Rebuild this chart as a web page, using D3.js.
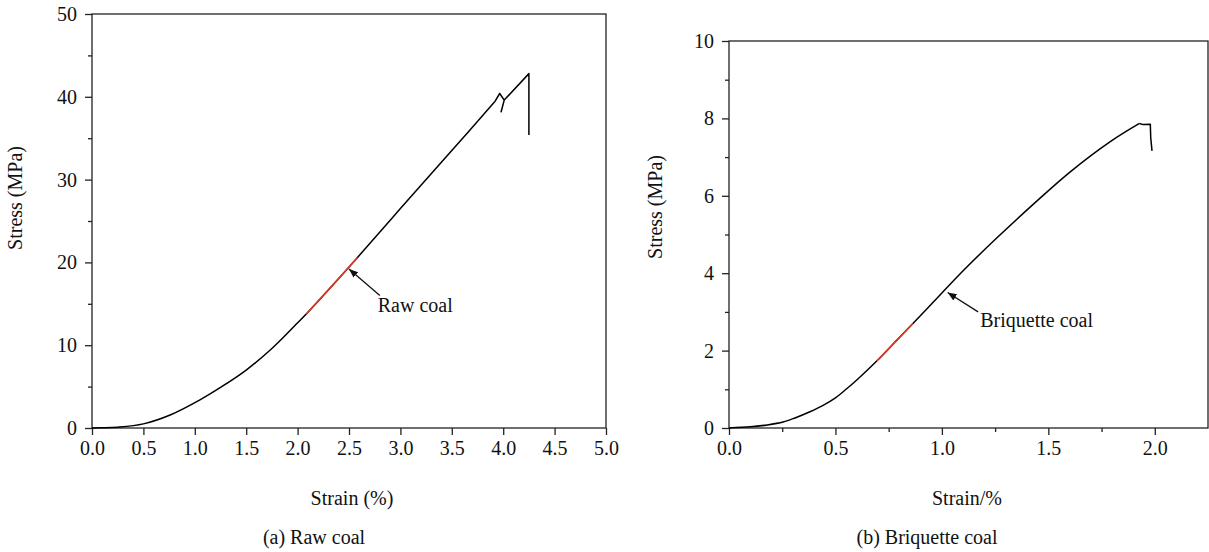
<html>
<head>
<meta charset="utf-8">
<script src="https://d3js.org/d3.v7.min.js"></script>
<style>
  body { margin: 0; background: white; }
  .axis line { stroke: #222; stroke-width: 1.3; }
  .axis path { display: none; }
</style>
</head>
<body>
<svg id="chart" width="1209" height="552"></svg>
<script>
// (a) raw coal  -- smooth part, then the failure part (drawn with straight segments)
var rawStrain = [0, 0.1, 0.25, 0.5, 0.76, 1.05, 1.25, 1.5, 1.75, 2.0, 2.084, 2.33, 2.583, 3.0, 3.5, 3.917];
var rawStress = [0, 0.02, 0.1, 0.5, 1.57, 3.4, 4.9, 7.0, 9.6, 12.7, 13.77, 17.1, 20.6, 26.5, 33.5, 39.4];
var rawFailStrain = [3.917, 3.966, 4.01, 3.98, 4.01, 4.25, 4.25];
var rawFailStress = [39.4, 40.4, 39.6, 38.2, 39.6, 42.8, 35.4];
var rawRedStrain = [2.084, 2.33, 2.583];
var rawRedStress = [13.77, 17.1, 20.6];
var rawXTicks = [0, 0.5, 1, 1.5, 2, 2.5, 3, 3.5, 4, 4.5, 5];
var rawYTicks = [0, 10, 20, 30, 40, 50];
var rawYMinor = [5, 15, 25, 35, 45];

// (b) briquette coal
var briStrain = [0, 0.1, 0.18, 0.254, 0.31, 0.38, 0.44, 0.5, 0.55, 0.608, 0.694, 0.78, 0.864, 1.0, 1.101, 1.25, 1.443, 1.603, 1.791, 1.928];
var briStress = [0, 0.03, 0.08, 0.155, 0.26, 0.42, 0.58, 0.78, 1.0, 1.28, 1.73, 2.22, 2.70, 3.49, 4.07, 4.87, 5.85, 6.62, 7.40, 7.87];
var briFailStrain = [1.928, 1.945, 1.979, 1.981, 1.987];
var briFailStress = [7.87, 7.84, 7.85, 7.5, 7.16];
var briRedStrain = [0.694, 0.78, 0.864];
var briRedStress = [1.73, 2.22, 2.70];
var briXTicks = [0, 0.5, 1, 1.5, 2];
var briXMinor = [0.25, 0.75, 1.25, 1.75];
var briYTicks = [0, 2, 4, 6, 8, 10];
var briYMinor = [1, 3, 5, 7, 9];

var FONT = "Liberation Serif";
var svg = d3.select("#chart").attr("font-family", FONT).attr("fill", "#111");
var defs = svg.append("defs");
defs.append("marker").attr("id", "arr")
  .attr("viewBox", "0 0 10 10").attr("refX", 10).attr("refY", 5)
  .attr("markerWidth", 9).attr("markerHeight", 9).attr("orient", "auto")
  .attr("markerUnits", "userSpaceOnUse")
  .append("path").attr("d", "M0,1 L10,5 L0,9 Z").attr("fill", "#111");

function zip(a, b) { return a.map(function(v, i) { return [v, b[i]]; }); }

function panel(opt) {
  var x = d3.scaleLinear().domain(opt.xd).range([opt.left, opt.right]);
  var y = d3.scaleLinear().domain(opt.yd).range([opt.bottom, opt.top]);
  var g = svg.append("g");

  g.append("g").attr("class", "axis")
    .attr("transform", "translate(0," + opt.bottom + ")")
    .call(d3.axisBottom(x).tickValues(opt.xt).tickFormat(d3.format(".1f")).tickSizeInner(7).tickSizeOuter(0).tickPadding(6));
  if (opt.xm) {
    g.append("g").attr("class", "axis")
      .attr("transform", "translate(0," + opt.bottom + ")")
      .call(d3.axisBottom(x).tickValues(opt.xm).tickFormat("").tickSizeInner(4).tickSizeOuter(0));
  }
  g.append("g").attr("class", "axis")
    .attr("transform", "translate(" + opt.left + ",0)")
    .call(d3.axisLeft(y).tickValues(opt.yt).tickSizeInner(7).tickSizeOuter(0).tickPadding(8));
  g.append("g").attr("class", "axis")
    .attr("transform", "translate(" + opt.left + ",0)")
    .call(d3.axisLeft(y).tickValues(opt.ym).tickFormat("").tickSizeInner(4).tickSizeOuter(0));
  g.selectAll(".axis").attr("font-family", FONT).attr("font-size", 20);
  g.selectAll(".axis text").attr("fill", "#111");

  g.append("rect")
    .attr("x", opt.left).attr("y", opt.top)
    .attr("width", opt.right - opt.left).attr("height", opt.bottom - opt.top)
    .attr("fill", "none").attr("stroke", "#222").attr("stroke-width", 1.3);

  var smooth = d3.line().x(function(d) { return x(d[0]); }).y(function(d) { return y(d[1]); })
    .curve(d3.curveCatmullRom.alpha(0.5));
  var straight = d3.line().x(function(d) { return x(d[0]); }).y(function(d) { return y(d[1]); });
  g.append("path").attr("d", smooth(zip(opt.sx, opt.sy)))
    .attr("fill", "none").attr("stroke", "#000").attr("stroke-width", 1.5);
  g.append("path").attr("d", straight(zip(opt.fx, opt.fy)))
    .attr("fill", "none").attr("stroke", "#000").attr("stroke-width", 1.5)
    .attr("stroke-linejoin", "round");
  g.append("path").attr("d", smooth(zip(opt.rx, opt.ry)))
    .attr("fill", "none").attr("stroke", "#e03a24").attr("stroke-width", 1.6);

  // annotation
  g.append("line")
    .attr("x1", x(opt.tail[0])).attr("y1", y(opt.tail[1]))
    .attr("x2", x(opt.tip[0])).attr("y2", y(opt.tip[1]))
    .attr("stroke", "#111").attr("stroke-width", 1.3).attr("marker-end", "url(#arr)");
  g.append("text").attr("x", x(opt.lab[0])).attr("y", y(opt.lab[1]))
    .attr("font-size", 20).text(opt.name);

  g.append("text").attr("x", opt.xtx).attr("y", 505)
    .attr("text-anchor", "middle").attr("font-size", 20).text(opt.xtitle);
  g.append("text").attr("transform", "translate(" + opt.ytx + "," + opt.yty + ") rotate(-90)")
    .attr("text-anchor", "middle").attr("font-size", 20).text("Stress (MPa)");
  g.append("text").attr("x", opt.capx).attr("y", 544)
    .attr("text-anchor", "middle").attr("font-size", 20).text(opt.cap);
}

panel({
  left: 92, right: 606, top: 14, bottom: 428,
  xd: [0, 5], yd: [0, 50],
  xt: rawXTicks, yt: rawYTicks, ym: rawYMinor,
  sx: rawStrain, sy: rawStress, fx: rawFailStrain, fy: rawFailStress,
  rx: rawRedStrain, ry: rawRedStress,
  tip: [2.5, 19.2], tail: [2.8, 16.0], lab: [2.78, 14.0], name: "Raw coal",
  xtitle: "Strain (%)", xtx: 352, ytx: 22, yty: 198, cap: "(a)  Raw coal", capx: 314
});

panel({
  left: 729, right: 1208, top: 41, bottom: 428,
  xd: [0, 2.25], yd: [0, 10],
  xt: briXTicks, xm: briXMinor, yt: briYTicks, ym: briYMinor,
  sx: briStrain, sy: briStress, fx: briFailStrain, fy: briFailStress,
  rx: briRedStrain, ry: briRedStress,
  tip: [1.027, 3.5], tail: [1.17, 3.0], lab: [1.18, 2.6], name: "Briquette coal",
  xtitle: "Strain/%", xtx: 967, ytx: 662, yty: 207, cap: "(b)  Briquette coal", capx: 927
});
</script>
</body>
</html>
